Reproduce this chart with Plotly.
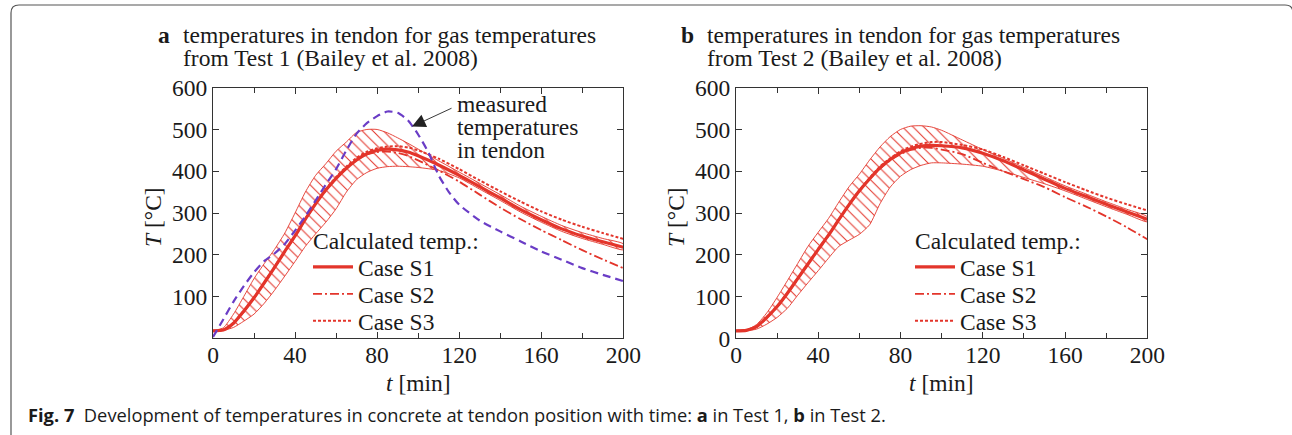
import plotly.graph_objects as go

W, H = 1292, 435

# ---------------- data ----------------
t = [0, 5, 10, 15, 20, 25, 30, 35, 40, 45, 50, 55, 60, 65, 70, 75, 80, 85, 90, 95,
     100, 110, 120, 130, 140, 150, 160, 170, 180, 190, 200]

# Panel a (Test 1)
a_s1 = [18, 20, 36, 65, 97, 133, 170, 208, 245, 285, 322, 355, 383, 407, 427, 442, 450, 453, 451, 446,
        437, 415, 390, 363, 336, 308, 284, 262, 245, 231, 218]
a_s2 = [18, 20, 35, 64, 96, 132, 169, 207, 244, 284, 321, 354, 382, 406, 426, 440, 446, 447, 444, 437,
        426, 402, 375, 344, 313, 285, 259, 235, 211, 189, 168]
a_s3 = [18, 20, 37, 66, 98, 134, 171, 209, 246, 286, 323, 357, 386, 411, 432, 447, 455, 459, 460, 457,
        450, 430, 405, 378, 352, 327, 304, 284, 267, 252, 238]
a_upper = [18, 25, 58, 100, 143, 179, 213, 252, 300, 350, 390, 418, 448, 470, 493, 500, 500, 492, 480, 467,
           453, 425, 398, 371, 344, 316, 292, 270, 253, 239, 226]
a_lower = [18, 19, 26, 41, 58, 84, 115, 149, 184, 220, 250, 278, 310, 350, 380, 397, 407, 411, 412, 411,
           409, 402, 384, 357, 330, 302, 278, 256, 239, 225, 212]

t_meas = [0, 5, 10, 15, 20, 25, 30, 35, 40, 45, 50, 55, 60, 65, 70, 75, 80, 85, 90, 95, 100,
          105, 110, 115, 120, 130, 140, 150, 160, 170, 180, 190, 200]
a_meas = [3, 45, 88, 125, 158, 185, 203, 226, 258, 292, 330, 368, 405, 450, 490, 515, 532, 543, 540, 522, 488,
          445, 390, 350, 320, 282, 256, 232, 208, 188, 168, 152, 137]

# Panel b (Test 2)
b_s1 = [18, 19, 28, 50, 76, 108, 143, 178, 213, 247, 284, 320, 353, 382, 408, 428, 444, 454, 460, 462,
        461, 456, 443, 425, 403, 381, 359, 340, 321, 303, 285]
b_s2 = [18, 19, 27, 49, 75, 107, 142, 177, 212, 246, 283, 319, 352, 381, 406, 426, 441, 451, 456, 456,
        452, 441, 420, 400, 381, 362, 338, 316, 292, 266, 237]
b_s3 = [18, 19, 29, 51, 77, 109, 144, 179, 214, 248, 285, 321, 354, 384, 411, 431, 448, 459, 466, 470,
        470, 463, 452, 434, 414, 394, 374, 355, 337, 321, 306]
b_upper = [18, 20, 33, 61, 98, 138, 179, 220, 254, 287, 326, 363, 393, 427, 458, 483, 500, 508, 509, 506,
           498, 475, 452, 431, 409, 387, 365, 346, 327, 309, 291]
b_lower = [18, 18, 22, 34, 50, 72, 103, 133, 162, 192, 220, 235, 249, 272, 322, 362, 388, 404, 414, 420,
           420, 417, 412, 400, 385, 370, 353, 334, 315, 297, 279]

x_ticks = [0, 40, 80, 120, 160, 200]
x_minor = [20, 60, 100, 140, 180]
a_yticks = [100, 200, 300, 400, 500, 600]
b_yticks = [0, 100, 200, 300, 400, 500, 600]

titles_a = ["temperatures in tendon for gas temperatures", "from Test 1 (Bailey et al. 2008)"]
titles_b = ["temperatures in tendon for gas temperatures", "from Test 2 (Bailey et al. 2008)"]
legend_title = "Calculated temp.:"
case_names = ["Case S1", "Case S2", "Case S3"]
measured_label = ["measured", "temperatures", "in tendon"]
caption = ("<b>Fig. 7</b>&nbsp;&nbsp;Development of temperatures in concrete at tendon position with time: "
           "<b>a</b> in Test 1, <b>b</b> in Test 2.")

# ---------------- style ----------------
RED = "#e3352b"
PURPLE = "#6a3dc6"
SERIF = "Liberation Serif, Times New Roman, serif"
FS = 23.5
AX = "#333333"
TXT = "#1a1a1a"

def px_x(p):
    return p / W

def px_y(p):
    return 1 - p / H

fig = go.Figure()

def add_panel(xa, ya, s1, s2, s3, up, lo, legend_names):
    fig.add_trace(go.Scatter(
        x=t + t[::-1], y=up + lo[::-1], xaxis=xa, yaxis=ya,
        mode="lines", fill="toself", line=dict(color=RED, width=0.9, shape="spline", smoothing=0.6),
        fillcolor="rgba(0,0,0,0)",
        fillpattern=dict(shape="\\", fgcolor=RED, fgopacity=1, bgcolor="rgba(0,0,0,0)",
                         size=7.5, solidity=0.14),
        showlegend=False, hoverinfo="skip"))
    styles = [dict(width=3.2, dash="solid"),
              dict(width=1.8, dash="9px,3px,2px,3px"),
              dict(width=2.0, dash="3px,2px")]
    for name, ys, st, lg in zip(case_names, [s1, s2, s3], styles, legend_names):
        fig.add_trace(go.Scatter(
            x=t, y=ys, xaxis=xa, yaxis=ya, mode="lines", name=name,
            line=dict(color=RED, width=st["width"], dash=st["dash"], shape="spline", smoothing=0.6),
            legend=lg))

add_panel("x", "y", a_s1, a_s2, a_s3, a_upper, a_lower, ["legend", "legend2", "legend3"])
fig.add_trace(go.Scatter(
    x=t_meas, y=a_meas, xaxis="x", yaxis="y", mode="lines",
    line=dict(color=PURPLE, width=2.2, dash="8px,5px", shape="spline", smoothing=0.6),
    showlegend=False, name="measured"))
add_panel("x2", "y2", b_s1, b_s2, b_s3, b_upper, b_lower, ["legend4", "legend5", "legend6"])

def xaxis_cfg(x0, x1, anchor):
    return dict(domain=[px_x(x0), px_x(x1)], range=[0, 200], tickvals=x_ticks, anchor=anchor,
                ticks="inside", ticklen=6, tickwidth=1, tickcolor=AX, mirror="allticks",
                showline=True, linecolor=AX, linewidth=1, showgrid=False, zeroline=False,
                automargin=False, ticklabelstandoff=-5,
                minor=dict(tickvals=x_minor, ticks="inside", ticklen=5, tickcolor=AX, showgrid=False),
                tickfont=dict(family=SERIF, size=FS, color=TXT), fixedrange=True)

def yaxis_cfg(ticks, anchor):
    return dict(domain=[px_y(338.3), px_y(87.7)], range=[0, 600], tickvals=ticks, anchor=anchor,
                ticks="inside", ticklen=6, tickwidth=1, tickcolor=AX, mirror="allticks",
                showline=True, linecolor=AX, linewidth=1, showgrid=False, zeroline=False,
                automargin=False,
                tickfont=dict(family=SERIF, size=FS, color=TXT), fixedrange=True)

def leg(xp, yp):
    return dict(x=px_x(xp), y=px_y(yp), xanchor="left", yanchor="middle",
                bgcolor="rgba(0,0,0,0)", borderwidth=0, itemwidth=40,
                font=dict(family=SERIF, size=FS, color=TXT))

fig.update_layout(
    width=W, height=H, margin=dict(l=0, r=0, t=0, b=0, pad=0, autoexpand=False),
    paper_bgcolor="white", plot_bgcolor="white",
    xaxis=xaxis_cfg(213, 623.3, "y"),
    yaxis=yaxis_cfg(a_yticks, "x"),
    xaxis2=xaxis_cfg(736, 1147.3, "y2"),
    yaxis2=yaxis_cfg(b_yticks, "x2"),
    legend=leg(308, 267), legend2=leg(308, 294), legend3=leg(308, 321),
    legend4=leg(910, 267), legend5=leg(910, 294), legend6=leg(910, 321),
    showlegend=True,
)

ann = []
def text_ann(txt, xp, yp, size=FS, family=SERIF, xanchor="left", **kw):
    ann.append(dict(text=txt, x=px_x(xp), y=px_y(yp), xref="paper", yref="paper",
                    xanchor=xanchor, yanchor="middle", showarrow=False,
                    font=dict(family=family, size=size, color=TXT), **kw))

# panel titles
text_ann("<b>a</b>", 156, 35)
text_ann(titles_a[0], 181, 35)
text_ann(titles_a[1], 181, 58)
text_ann("<b>b</b>", 679, 35)
text_ann(titles_b[0], 705, 35)
text_ann(titles_b[1], 705, 58)

# legend headings
text_ann(legend_title, 311, 241)
text_ann(legend_title, 913, 241)

# axis titles
for cx in (418, 941.5):
    text_ann("<i>t</i> [min]", cx, 383, xanchor="center")
for cx in (153, 676):
    ann.append(dict(text="<i>T</i> [°C]", x=px_x(cx), y=px_y(217), xref="paper", yref="paper",
                    xanchor="center", yanchor="middle", showarrow=False, textangle=-90,
                    font=dict(family=SERIF, size=FS, color=TXT)))

# measured annotation
for i, line in enumerate(measured_label):
    text_ann(line, 455, 104 + 23 * i)
ann.append(dict(text="", x=97, y=507, xref="x", yref="y", ax=41, ay=-19, showarrow=True,
                arrowhead=2, arrowsize=3, arrowwidth=0.9, arrowcolor="#222", standoff=0))

# caption
text_ann(caption, 26, 414, size=18.3, family="Open Sans, Noto Sans, sans-serif")

fig.update_layout(annotations=ann)

# frame around the figure
fig.add_shape(type="path", xref="paper", yref="paper",
              path=(f"M {px_x(11)},{px_y(445)} L {px_x(11)},{px_y(13)} "
                    f"Q {px_x(11)},{px_y(5)} {px_x(19)},{px_y(5)} "
                    f"L {px_x(1285)},{px_y(5)} Q {px_x(1293)},{px_y(5)} {px_x(1293)},{px_y(13)} "
                    f"L {px_x(1293)},{px_y(445)}"),
              line=dict(color="#555555", width=1.2))

fig.write_html("out.html")
